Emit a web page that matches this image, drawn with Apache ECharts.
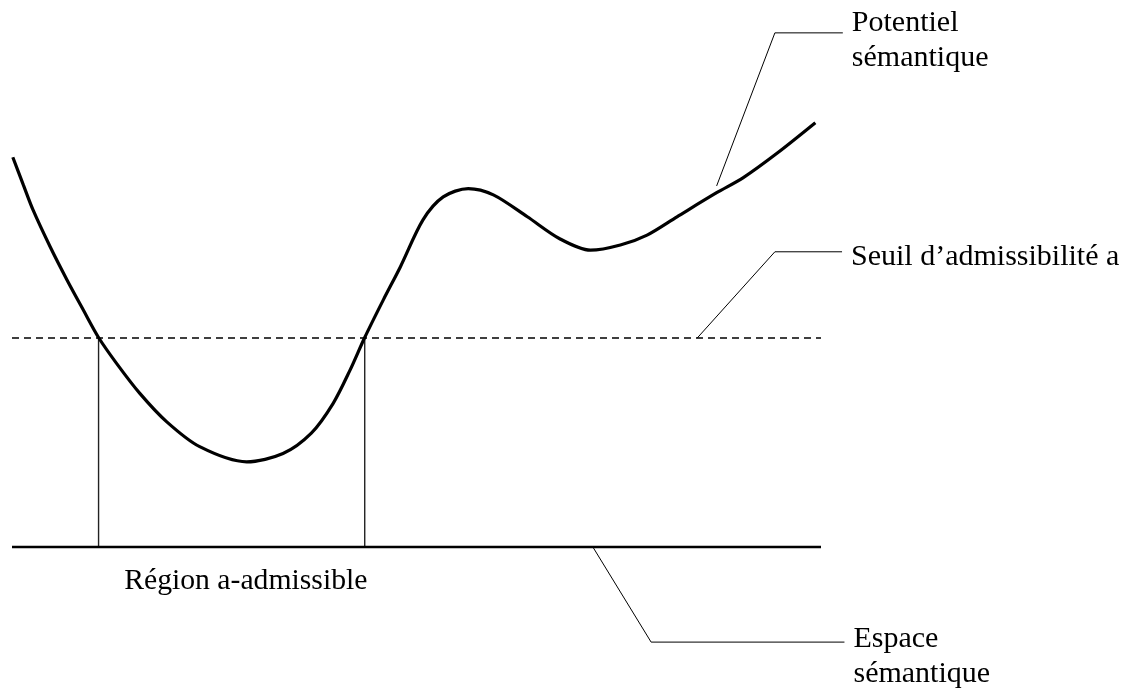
<!DOCTYPE html>
<html>
<head>
<meta charset="utf-8">
<script src="https://cdn.jsdelivr.net/npm/echarts@6/dist/echarts.min.js"></script>
<style>
html,body{margin:0;padding:0;background:#fff;}
#c{width:1137px;height:693px;}
</style>
</head>
<body>
<div id="c"></div>
<script>
// Semantic space (x) and semantic potential (y), abstract units
const curveX = [0.1, 1.4, 2.6, 4.7, 6.8, 8.8, 10.7, 12.9, 15.8, 19.1, 23.2, 29.0, 33.5, 37.0, 39.7, 41.8, 43.6, 45.9, 48.0, 50.8, 53.3, 56.4, 59.5, 63.7, 67.7, 71.5, 75.2, 78.5, 82.2, 87.1, 90.4, 94.6, 99.3];
const curveY = [74.6, 69.3, 64.5, 57.5, 51.1, 45.4, 40.1, 35.2, 29.4, 24.0, 19.2, 16.3, 17.9, 21.8, 27.5, 33.9, 40.1, 47.3, 53.6, 62.6, 67.0, 68.6, 67.4, 63.2, 59.0, 56.8, 57.8, 59.7, 63.2, 67.8, 70.7, 75.4, 81.2];
const spaceRange = [0, 100];
const threshold = 40;
const crossings = [10.7, 43.6];
const regionLabel = 'Région a-admissible';
const regionLabelAt = [28.9, -6.5];
const leaderPotentielX = [87.1, 94.3, 102.7];
const leaderPotentielY = [69.1, 98.4, 98.4];
const leaderSeuilX = [84.7, 94.3, 102.6];
const leaderSeuilY = [40, 56.5, 56.5];
const leaderEspaceX = [71.8, 79.0, 102.9];
const leaderEspaceY = [0, -18.2, -18.2];
const labelPotentiel = 'Potentiel\nsémantique';
const labelSeuil = 'Seuil d\u2019admissibilité a';
const labelEspace = 'Espace\nsémantique';

const zip = (xs, ys) => xs.map((x, i) => [x, ys[i]]);
const FONT = '"Liberation Serif", "Times New Roman", serif';
const textStyle = {fontFamily: FONT, fontSize: 30, lineHeight: 35, color: '#000', opacity: 1};

function leader(name, xs, ys, text, offsetY) {
  return {
    type: 'line', name: name, data: zip(xs, ys), clip: false, silent: true,
    symbol: 'none', lineStyle: {color: '#000', width: 1},
    endLabel: Object.assign({show: true, formatter: text, distance: 9, offset: [0, offsetY], align: 'left'}, textStyle)
  };
}

const chart = echarts.init(document.getElementById('c'), null, {renderer: 'canvas'});
chart.setOption({
  animation: false,
  backgroundColor: '#fff',
  // x spans 0..110 so the leader ends (x > 100) are inside the axis extent
  grid: {left: 12, right: 235.1, top: 24.5, bottom: 146, containLabel: false},
  xAxis: {type: 'value', min: 0, max: 110, show: false},
  yAxis: {type: 'value', min: 0, max: 100, show: false},
  series: [
    {type: 'line', name: 'threshold', data: [[spaceRange[0], threshold], [spaceRange[1], threshold]], symbol: 'none', clip: false,
     lineStyle: {color: '#000', width: 1.6, type: [7, 5]}},
    {type: 'line', name: 'v1', data: [[crossings[0], 0], [crossings[0], threshold]], symbol: 'none', clip: false,
     lineStyle: {color: '#222', width: 1.4}},
    {type: 'line', name: 'v2', data: [[crossings[1], 0], [crossings[1], threshold]], symbol: 'none', clip: false,
     lineStyle: {color: '#222', width: 1.4}},
    {type: 'line', name: 'space', data: [[spaceRange[0], 0], [spaceRange[1], 0]], symbol: 'none', clip: false,
     lineStyle: {color: '#000', width: 2.6}},
    {type: 'line', name: 'potential', data: zip(curveX, curveY), smooth: 0.3, symbol: 'none', clip: false,
     lineStyle: {color: '#000', width: 3.2}},
    leader('lp', leaderPotentielX, leaderPotentielY, labelPotentiel, 8),
    leader('ls', leaderSeuilX, leaderSeuilY, labelSeuil, 5),
    leader('le', leaderEspaceX, leaderEspaceY, labelEspace, 15),
    {type: 'scatter', name: 'region', data: [regionLabelAt], symbolSize: 0, clip: false, silent: true,
     itemStyle: {opacity: 1},
     label: Object.assign({show: true, position: 'inside', formatter: regionLabel}, textStyle, {fontSize: 29.7})}
  ]
});
</script>
</body>
</html>
